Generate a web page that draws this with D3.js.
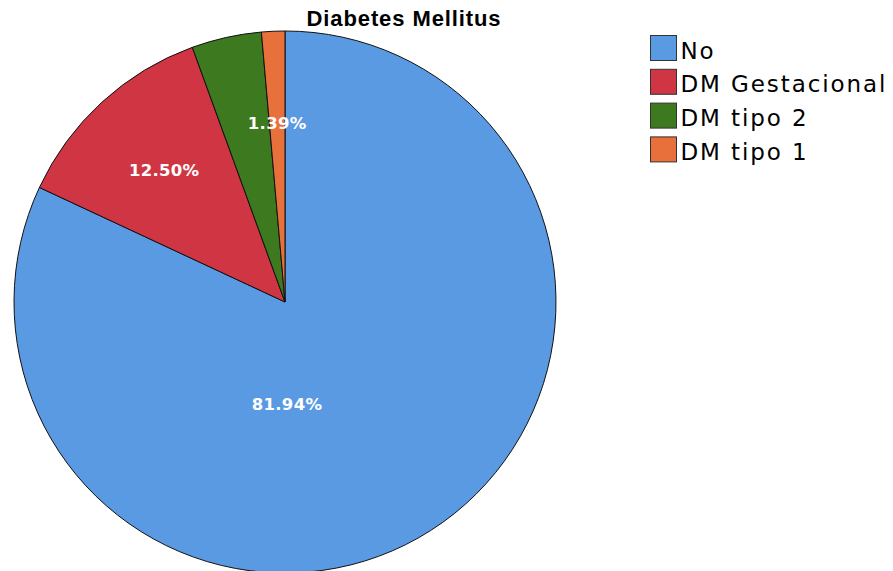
<!DOCTYPE html>
<html>
<head>
<meta charset="utf-8">
<script src="https://cdn.jsdelivr.net/npm/d3@7"></script>
<style>
  body { margin: 0; background: #fff; }
</style>
</head>
<body>
<div id="my_pie"></div>
<script>
// data
var categories = ["No", "DM Gestacional", "DM tipo 2", "DM tipo 1"];
var counts = [59, 9, 3, 1];
var percentLabels = ["81.94%", "12.50%", "", "1.39%"];
var colors = ["#5a9ae2", "#d03544", "#3d7a1f", "#e8703a"];

// set the dimensions
var width = 893, height = 571;
var radius = 271;
var cx = 285, cy = 302;

var svg = d3.select("#my_pie")
  .append("svg")
    .attr("width", width)
    .attr("height", height);

// title
svg.append("text")
  .attr("x", 404)
  .attr("y", 26)
  .attr("text-anchor", "middle")
  .style("font-family", "Liberation Sans, Arial, sans-serif")
  .style("font-weight", "bold")
  .style("font-size", "22px")
  .style("letter-spacing", "0.9px")
  .text("Diabetes Mellitus");

var g = svg.append("g")
  .attr("transform", "translate(" + cx + "," + cy + ")");

var pie = d3.pie().sort(null).value(function(d) { return d; });
var arcs = pie(counts);

var arc = d3.arc().innerRadius(0).outerRadius(radius);
var labelArc = d3.arc().innerRadius(radius * 0.66).outerRadius(radius * 0.66);

g.selectAll("path")
  .data(arcs)
  .enter()
  .append("path")
    .attr("d", arc)
    .style("fill", function(d, i) { return colors[i]; })
    .style("stroke", "#111")
    .style("stroke-width", 1);

// labels: big slice sits lower under the centre, small ones along mid angle
g.selectAll("text.lbl")
  .data(arcs)
  .enter()
  .append("text")
    .attr("class", "lbl")
    .attr("transform", function(d) {
      var p;
      if (d.endAngle - d.startAngle > Math.PI) p = [2, radius * 0.376];
      else p = labelArc.centroid(d);
      return "translate(" + p[0] + "," + p[1] + ")";
    })
    .attr("dy", "0.35em")
    .attr("text-anchor", "middle")
    .style("fill", "#fff")
    .style("font-family", "DejaVu Sans, Verdana, sans-serif")
    .style("font-weight", "bold")
    .style("font-size", "16.5px")
    .style("letter-spacing", "0.3px")
    .text(function(d, i) { return percentLabels[i]; });

// legend
var legend = svg.append("g")
  .attr("transform", "translate(650.5,35.5)");

var rows = legend.selectAll("g")
  .data(categories)
  .enter()
  .append("g")
    .attr("transform", function(d, i) { return "translate(0," + (i * 33.8) + ")"; });

rows.append("rect")
  .attr("width", 26)
  .attr("height", 25)
  .style("fill", function(d, i) { return colors[i]; })
  .style("stroke", "#333")
  .style("stroke-width", 1);

rows.append("text")
  .attr("x", 30)
  .attr("y", 23)
  .style("font-family", "DejaVu Sans, Verdana, sans-serif")
  .style("font-size", "23px")
  .style("letter-spacing", "1.9px")
  .text(function(d) { return d; });
</script>
</body>
</html>
